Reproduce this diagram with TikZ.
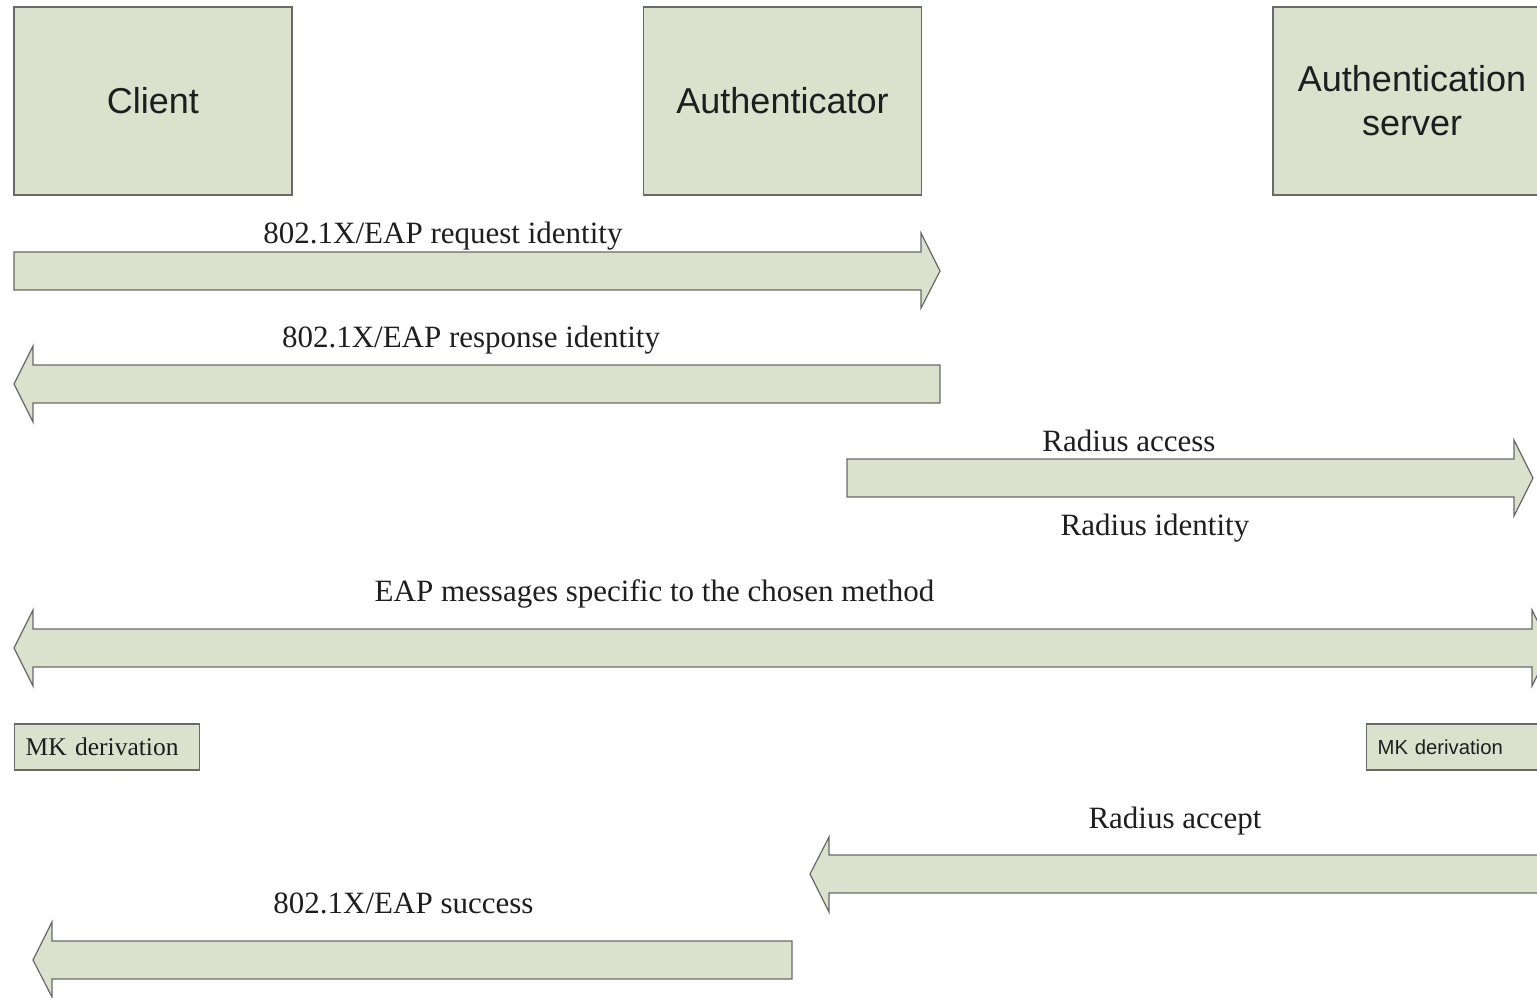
\documentclass[tikz,border=0pt]{standalone}
\usepackage{fontspec}
\setmainfont{Liberation Serif}
\setsansfont{Liberation Sans}
\definecolor{boxfill}{RGB}{220,225,205}
\definecolor{boxline}{RGB}{105,105,105}
\definecolor{ink}{RGB}{30,30,30}
\tikzset{
  shapeline/.style={draw=boxline, fill=boxfill, line width=1.2pt, line join=miter},
  entity/.style={shapeline, rectangle, minimum width=278, minimum height=188, inner sep=0pt,
     font=\sffamily\fontsize{36}{44}\selectfont, text=ink, align=center},
  mkbox/.style={shapeline, rectangle, minimum height=46, inner ysep=0pt, inner xsep=11pt, align=left, text=ink},
  msg/.style={font=\fontsize{31}{36}\selectfont, text=ink, anchor=base, inner sep=0pt},
}
\begin{document}
\begin{tikzpicture}[x=1pt,y=-1pt]
\useasboundingbox (0,0) rectangle (1537,997);
\clip (0,0) rectangle (1537,997);
% entities
\node[entity] (client) at (153,101) {Client};
\node[entity] (auth) at (782.5,101) {Authenticator};
\node[entity] (server) at (1412,101) {Authentication\\server};
% message 1
\draw[shapeline] (14,252)--(921,252)--(921,233)--(940,271)--(921,308)--(921,290)--(14,290)--cycle;
\node[msg] (m1) at (443,243) {802.1X/EAP request identity};
% message 2
\draw[shapeline] (940,365)--(33,365)--(33,346)--(14,384)--(33,422)--(33,403)--(940,403)--cycle;
\node[msg] (m2) at (471,347) {802.1X/EAP response identity};
% message 3
\draw[shapeline] (847,459)--(1514,459)--(1514,440)--(1533,478)--(1514,516)--(1514,497)--(847,497)--cycle;
\node[msg] (m3) at (1129,451) {Radius access};
\node[msg] (m3b) at (1155,535) {Radius identity};
% message 4
\draw[shapeline] (33,629)--(1532,629)--(1532,610)--(1551,648)--(1532,686)--(1532,667)--(33,667)--(33,686)--(14,648)--(33,610)--cycle;
\node[msg] (m4) at (654.5,601) {EAP messages specific to the chosen method};
% MK derivation
\node[mkbox, anchor=west, text width=163pt, font=\fontsize{25.5}{30}\selectfont] (mk1) at (14,747) {MK derivation};
\node[mkbox, anchor=west, text width=200pt, font=\sffamily\fontsize{20.3}{24}\selectfont] (mk2) at (1366,747) {MK derivation};
% message 5
\draw[shapeline] (1560,855)--(829,855)--(829,837)--(810,874)--(829,912)--(829,893)--(1560,893)--cycle;
\node[msg] (m5) at (1175,828) {Radius accept};
% message 6
\draw[shapeline] (792,941)--(52,941)--(52,922)--(33,960)--(52,997)--(52,979)--(792,979)--cycle;
\node[msg] (m6) at (403.5,913) {802.1X/EAP success};
\end{tikzpicture}
\end{document}
